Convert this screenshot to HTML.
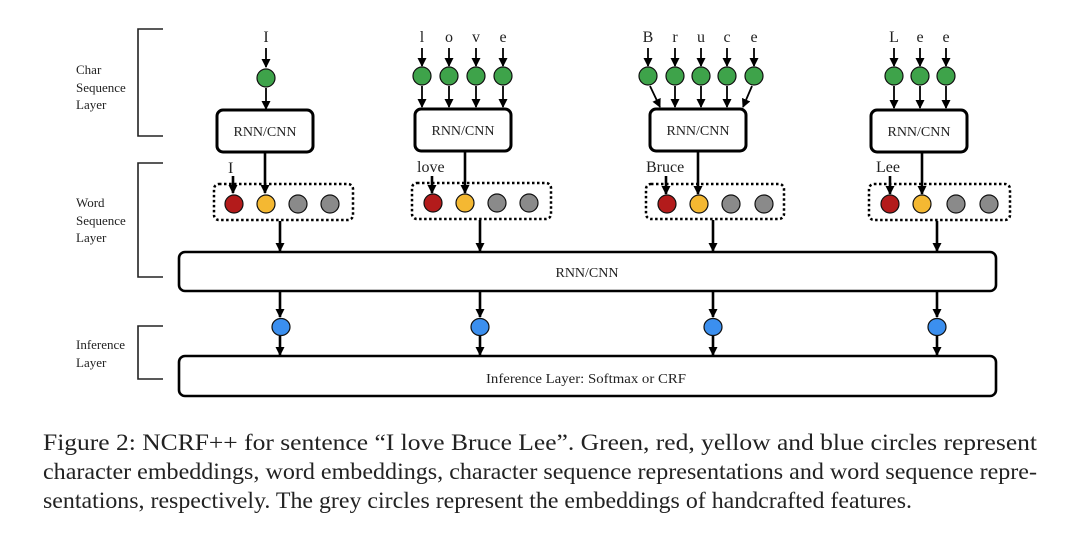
<!DOCTYPE html>
<html><head><meta charset="utf-8"><style>
html,body{margin:0;padding:0;background:#fff;}
svg{display:block;}
text{font-family:"Liberation Serif",serif;fill:#222;}
</style></head><body>
<svg width="1080" height="538" viewBox="0 0 1080 538" xmlns="http://www.w3.org/2000/svg">
<defs>
<marker id="a" markerUnits="userSpaceOnUse" markerWidth="10" markerHeight="10" refX="8" refY="5" orient="auto">
<path d="M0,0.5 L9,5 L0,9.5 z" fill="#000"/>
</marker>
</defs>
<g fill="none" stroke="#222" stroke-width="1.6">
<path d="M163,29 H138 V136 H163"/>
<path d="M163,163 H138 V277 H163"/>
<path d="M163,326 H138 V379 H163"/>
</g>
<g font-size="13">
<text x="76" y="74">Char</text><text x="76" y="92">Sequence</text><text x="76" y="109">Layer</text>
<text x="76" y="207">Word</text><text x="76" y="225">Sequence</text><text x="76" y="242">Layer</text>
<text x="76" y="349">Inference</text><text x="76" y="367">Layer</text>
</g>
<g font-size="16" text-anchor="middle">
<text x="266" y="42">I</text>
<text x="422" y="42">l</text><text x="449" y="42">o</text><text x="476" y="42">v</text><text x="503" y="42">e</text>
<text x="648" y="42">B</text><text x="675" y="42">r</text><text x="701" y="42">u</text><text x="727" y="42">c</text><text x="754" y="42">e</text>
<text x="894" y="42">L</text><text x="920" y="42">e</text><text x="946" y="42">e</text>
</g>
<g stroke="#000" stroke-width="1.8" marker-end="url(#a)">
<line x1="266" y1="48" x2="266" y2="67"/>
<line x1="266" y1="88" x2="266" y2="109"/>
<line x1="422" y1="48" x2="422" y2="66"/><line x1="449" y1="48" x2="449" y2="66"/><line x1="476" y1="48" x2="476" y2="66"/><line x1="503" y1="48" x2="503" y2="66"/>
<line x1="422" y1="86" x2="422" y2="107"/><line x1="449" y1="86" x2="449" y2="107"/><line x1="476" y1="86" x2="476" y2="107"/><line x1="503" y1="86" x2="503" y2="107"/>
<line x1="648" y1="48" x2="648" y2="66"/><line x1="675" y1="48" x2="675" y2="66"/><line x1="701" y1="48" x2="701" y2="66"/><line x1="727" y1="48" x2="727" y2="66"/><line x1="754" y1="48" x2="754" y2="66"/>
<line x1="650" y1="86" x2="660" y2="107"/><line x1="675" y1="86" x2="675" y2="107"/><line x1="701" y1="86" x2="701" y2="107"/><line x1="727" y1="86" x2="727" y2="107"/><line x1="752" y1="86" x2="743" y2="107"/>
<line x1="894" y1="48" x2="894" y2="66"/><line x1="920" y1="48" x2="920" y2="66"/><line x1="946" y1="48" x2="946" y2="66"/>
<line x1="894" y1="86" x2="894" y2="108"/><line x1="920" y1="86" x2="920" y2="108"/><line x1="946" y1="86" x2="946" y2="108"/>
</g>
<g fill="#3ea34a" stroke="#111" stroke-width="1.2">
<ellipse cx="266" cy="78" rx="9" ry="9"/>
<ellipse cx="422" cy="76" rx="9" ry="9"/><ellipse cx="449" cy="76" rx="9" ry="9"/><ellipse cx="476" cy="76" rx="9" ry="9"/><ellipse cx="503" cy="76" rx="9" ry="9"/>
<ellipse cx="648" cy="76" rx="9" ry="9"/><ellipse cx="675" cy="76" rx="9" ry="9"/><ellipse cx="701" cy="76" rx="9" ry="9"/><ellipse cx="727" cy="76" rx="9" ry="9"/><ellipse cx="754" cy="76" rx="9" ry="9"/>
<ellipse cx="894" cy="76" rx="9" ry="9"/><ellipse cx="920" cy="76" rx="9" ry="9"/><ellipse cx="946" cy="76" rx="9" ry="9"/>
</g>
<g fill="#fff" stroke="#000" stroke-width="3">
<rect x="217" y="110" width="96" height="42" rx="6"/>
<rect x="415" y="109" width="96" height="42" rx="6"/>
<rect x="650" y="109" width="96" height="42" rx="6"/>
<rect x="871" y="110" width="96" height="42" rx="6"/>
</g>
<g font-size="14" text-anchor="middle">
<text x="265" y="136">RNN/CNN</text><text x="463" y="135">RNN/CNN</text><text x="698" y="135">RNN/CNN</text><text x="919" y="136">RNN/CNN</text>
</g>
<g fill="none" stroke="#000" stroke-width="2.5" stroke-dasharray="2.5,2.5">
<rect x="214" y="184" width="139" height="36" rx="5"/>
<rect x="412" y="183" width="139" height="36" rx="5"/>
<rect x="646" y="184" width="138" height="35" rx="5"/>
<rect x="869" y="184" width="141" height="36" rx="5"/>
</g>
<g font-size="16">
<text x="228" y="173">I</text><text x="417" y="172">love</text><text x="646" y="172">Bruce</text><text x="876" y="172">Lee</text>
</g>
<g stroke="#000" stroke-width="2.6" marker-end="url(#a)">
<line x1="265" y1="152" x2="265" y2="193"/>
<line x1="465" y1="151" x2="465" y2="193"/>
<line x1="698" y1="152" x2="698" y2="194"/>
<line x1="922" y1="152" x2="922" y2="194"/>
<line x1="233" y1="176" x2="233" y2="193"/>
<line x1="432" y1="176" x2="432" y2="193"/>
<line x1="666" y1="176" x2="666" y2="194"/>
<line x1="890" y1="176" x2="890" y2="194"/>
<line x1="280" y1="221" x2="280" y2="251"/>
<line x1="480" y1="220" x2="480" y2="251"/>
<line x1="713" y1="220" x2="713" y2="251"/>
<line x1="937" y1="221" x2="937" y2="251"/>
<line x1="280" y1="292" x2="280" y2="317"/>
<line x1="480" y1="292" x2="480" y2="317"/>
<line x1="713" y1="292" x2="713" y2="317"/>
<line x1="937" y1="292" x2="937" y2="317"/>
<line x1="280" y1="336" x2="280" y2="355"/>
<line x1="480" y1="336" x2="480" y2="355"/>
<line x1="713" y1="336" x2="713" y2="355"/>
<line x1="937" y1="336" x2="937" y2="355"/>
</g>
<g stroke="#111" stroke-width="1.2">
<circle cx="234" cy="204" r="9" fill="#b31b1b"/><circle cx="266" cy="204" r="9" fill="#f4b832"/><circle cx="298" cy="204" r="9" fill="#8a8a8a"/><circle cx="330" cy="204" r="9" fill="#8a8a8a"/>
<circle cx="433" cy="203" r="9" fill="#b31b1b"/><circle cx="465" cy="203" r="9" fill="#f4b832"/><circle cx="497" cy="203" r="9" fill="#8a8a8a"/><circle cx="529" cy="203" r="9" fill="#8a8a8a"/>
<circle cx="667" cy="204" r="9" fill="#b31b1b"/><circle cx="699" cy="204" r="9" fill="#f4b832"/><circle cx="731" cy="204" r="9" fill="#8a8a8a"/><circle cx="764" cy="204" r="9" fill="#8a8a8a"/>
<circle cx="890" cy="204" r="9" fill="#b31b1b"/><circle cx="922" cy="204" r="9" fill="#f4b832"/><circle cx="956" cy="204" r="9" fill="#8a8a8a"/><circle cx="989" cy="204" r="9" fill="#8a8a8a"/>
<ellipse cx="281" cy="327" rx="9" ry="8.5" fill="#3b8fef"/><ellipse cx="480" cy="327" rx="9" ry="8.5" fill="#3b8fef"/><ellipse cx="713" cy="327" rx="9" ry="8.5" fill="#3b8fef"/><ellipse cx="937" cy="327" rx="9" ry="8.5" fill="#3b8fef"/>
</g>
<g fill="#fff" stroke="#000" stroke-width="2.6">
<rect x="179" y="252" width="817" height="39" rx="6"/>
<rect x="179" y="356" width="817" height="40" rx="6"/>
</g>
<text x="587" y="277" font-size="14" text-anchor="middle">RNN/CNN</text>
<text x="486" y="383" font-size="14" textLength="200" lengthAdjust="spacingAndGlyphs">Inference  Layer: Softmax or CRF</text>
<g font-size="23">
<text x="43" y="450" textLength="994" lengthAdjust="spacingAndGlyphs">Figure 2:  NCRF++ for sentence “I love Bruce Lee”.  Green, red, yellow and blue circles represent</text>
<text x="43" y="479" textLength="994" lengthAdjust="spacingAndGlyphs">character embeddings, word embeddings, character sequence representations and word sequence repre-</text>
<text x="43" y="508" textLength="869" lengthAdjust="spacingAndGlyphs">sentations, respectively. The grey circles represent the embeddings of handcrafted features.</text>
</g>
</svg>
</body></html>
